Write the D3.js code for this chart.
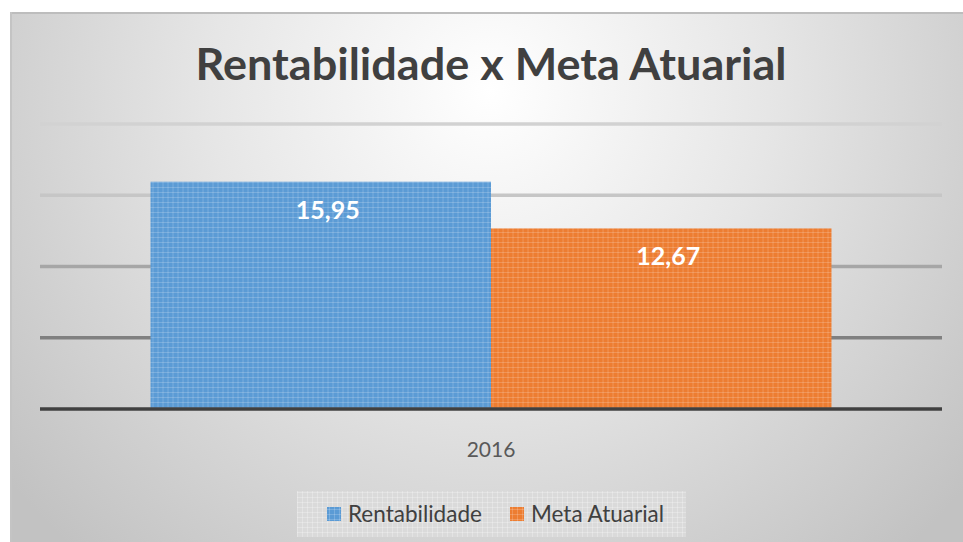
<!DOCTYPE html>
<html>
<head>
<meta charset="utf-8">
<script src="https://cdn.jsdelivr.net/npm/d3@7"></script>
<style>
  body { margin: 0; background: #fff; }
  text { font-family: Lato, "Open Sans", sans-serif; }
</style>
</head>
<body>
<div id="chart"></div>
<script>
// chart values
const categories = ["2016"];
const seriesNames = ["Rentabilidade", "Meta Atuarial"];
const seriesValues = [15.95, 12.67];
const seriesColors = ["#5b9bd5", "#ed7d31"];
const yTicks = [0, 5, 10, 15, 20];
const gridColors = ["#404040", "#808080", "#a6a6a6", "#c6c6c6", "#d2d2d2"];

const width = 963;
const height = 542;
const margin = { top: 124, right: 21, bottom: 133, left: 40 };

const svg = d3.select("#chart")
  .append("svg")
  .attr("width", width)
  .attr("height", height);

const defs = svg.append("defs");

// background gradient (white centre, grey edges)
const bg = defs.append("radialGradient")
  .attr("id", "bgGrad")
  .attr("gradientUnits", "userSpaceOnUse")
  .attr("cx", 490).attr("cy", 90).attr("r", 620);
bg.append("stop").attr("offset", "0").attr("stop-color", "#ffffff");
bg.append("stop").attr("offset", "0.45").attr("stop-color", "#e6e6e6");
bg.append("stop").attr("offset", "1").attr("stop-color", "#c2c2c2");

// small grid texture for bars and legend
function makePattern(id, base, line, op) {
  const p = defs.append("pattern")
    .attr("id", id)
    .attr("patternUnits", "userSpaceOnUse")
    .attr("width", 5).attr("height", 5);
  p.append("rect").attr("width", 5).attr("height", 5).attr("fill", base);
  p.append("rect").attr("x", 0).attr("y", 2).attr("width", 5).attr("height", 1)
    .attr("fill", line).attr("opacity", op);
  p.append("rect").attr("x", 2).attr("y", 0).attr("width", 1).attr("height", 5)
    .attr("fill", line).attr("opacity", op);
}
seriesColors.forEach((c, i) => makePattern("pat" + i, c, "#ffffff", 0.18));
makePattern("patLegend", "#dadada", "#ffffff", 0.25);

svg.append("rect")
  .attr("x", 10).attr("y", 12)
  .attr("width", width).attr("height", height)
  .attr("fill", "url(#bgGrad)");
svg.append("line")
  .attr("x1", 10).attr("x2", width).attr("y1", 13).attr("y2", 13)
  .attr("stroke", "#bdbdbd").attr("stroke-width", 2);
svg.append("line")
  .attr("x1", 11).attr("x2", 11).attr("y1", 12).attr("y2", height)
  .attr("stroke", "#c4c4c4").attr("stroke-width", 2);

// scales
const xScale = d3.scaleBand()
  .domain(categories)
  .range([margin.left, width - margin.right])
  .paddingInner(0)
  .paddingOuter(0.1623);

const xSub = d3.scaleBand()
  .domain(seriesNames)
  .range([0, xScale.bandwidth()]);

const yScale = d3.scaleLinear()
  .domain([0, 20])
  .range([height - margin.bottom, margin.top]);

// gridlines
svg.append("g")
  .selectAll("line")
  .data(yTicks.slice(1))
  .join("line")
  .attr("x1", margin.left)
  .attr("x2", width - margin.right)
  .attr("y1", d => yScale(d))
  .attr("y2", d => yScale(d))
  .attr("stroke", (d, i) => gridColors[i + 1])
  .attr("stroke-width", 3.5);

// bars
const rows = seriesNames.map((s, i) => ({ name: s, value: seriesValues[i], idx: i }));

const barG = svg.append("g")
  .attr("transform", `translate(${xScale(categories[0])},0)`);

barG.selectAll("rect")
  .data(rows)
  .join("rect")
  .attr("x", d => xSub(d.name))
  .attr("y", d => yScale(d.value))
  .attr("width", xSub.bandwidth())
  .attr("height", d => yScale(0) - yScale(d.value))
  .attr("fill", d => `url(#pat${d.idx})`);

const fmt = v => d3.format(".2f")(v).replace(".", ",");
barG.selectAll("text")
  .data(rows)
  .join("text")
  .attr("x", d => xSub(d.name) + xSub.bandwidth() / 2 + 7)
  .attr("y", d => yScale(d.value) + 37)
  .attr("text-anchor", "middle")
  .attr("fill", "#ffffff")
  .attr("font-weight", "bold")
  .attr("font-size", 25)
  .text(d => fmt(d.value));

// x axis line and label
svg.append("line")
  .attr("x1", margin.left)
  .attr("x2", width - margin.right)
  .attr("y1", yScale(0))
  .attr("y2", yScale(0))
  .attr("stroke", gridColors[0])
  .attr("stroke-width", 3.5);

svg.append("g")
  .selectAll("text")
  .data(categories)
  .join("text")
  .attr("x", d => xScale(d) + xScale.bandwidth() / 2)
  .attr("y", yScale(0) + 48)
  .attr("text-anchor", "middle")
  .attr("fill", "#595959")
  .attr("font-size", 21)
  .text(d => d);

// title
svg.append("text")
  .attr("x", 491)
  .attr("y", 80)
  .attr("text-anchor", "middle")
  .attr("fill", "#404040")
  .attr("font-weight", "bold")
  .attr("font-size", 43)
  .attr("textLength", 591)
  .attr("lengthAdjust", "spacingAndGlyphs")
  .text("Rentabilidade x Meta Atuarial");

// legend
const legend = svg.append("g");
legend.append("rect")
  .attr("x", 297).attr("y", 491)
  .attr("width", 389).attr("height", 46)
  .attr("fill", "url(#patLegend)");

const legendStarts = [327, 510];
const items = legend.selectAll("g")
  .data(rows)
  .join("g")
  .attr("transform", (d, i) => `translate(${legendStarts[i]},507)`);
items.append("rect")
  .attr("width", 14).attr("height", 14)
  .attr("fill", d => `url(#pat${d.idx})`);
items.append("text")
  .attr("x", 21)
  .attr("y", 15)
  .attr("fill", "#404040")
  .attr("font-size", 22.5)
  .text(d => d.name);
</script>
</body>
</html>
